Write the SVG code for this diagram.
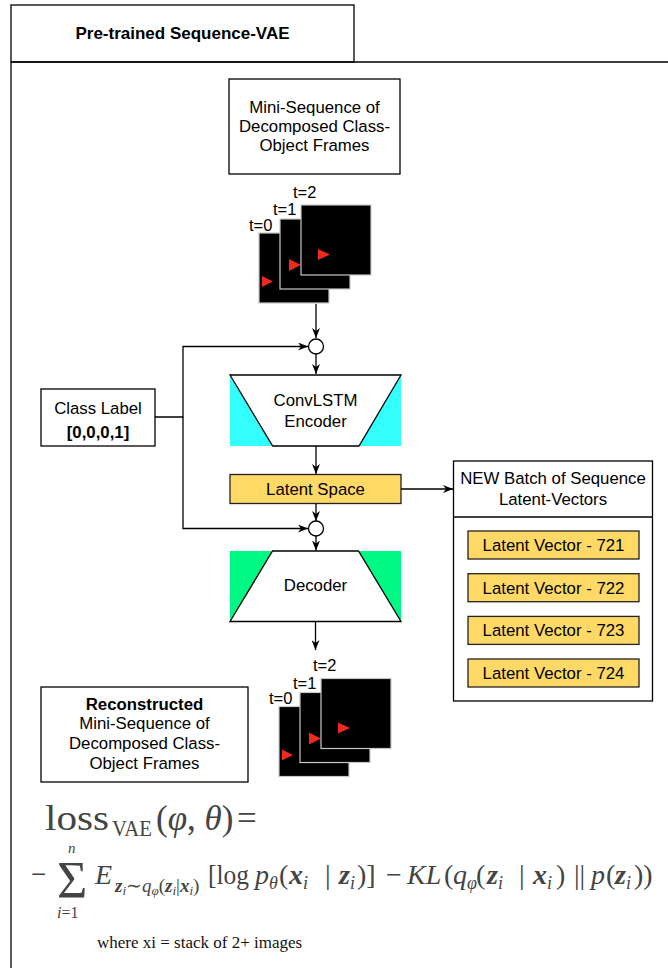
<svg xmlns="http://www.w3.org/2000/svg" width="668" height="968" viewBox="0 0 668 968">
<style>
.ln{fill:none;stroke:#000;stroke-width:1.3}
.bx{fill:#fff;stroke:#000;stroke-width:1.3}
.lat{fill:#FFD966;stroke:#222;stroke-width:1.3}
.t{font-family:"Liberation Sans",Arial,sans-serif;font-size:16.8px;fill:#000;text-anchor:middle}
.tl{font-family:"Liberation Sans",Arial,sans-serif;font-size:16.5px;fill:#000}
.b{font-weight:bold}
.fr{fill:#000;stroke:#c8c8c8;stroke-width:1.2}
.tri{fill:#ee2a1e}
.m{font-family:"Liberation Serif","Times New Roman",serif;fill:#444}
.it{font-style:italic}
.bi{font-style:italic;font-weight:bold}
</style>
<defs>
<marker id="arr" viewBox="0 0 10 8" refX="10" refY="4" markerWidth="10" markerHeight="8" orient="auto" markerUnits="userSpaceOnUse">
<path d="M0,0 L10,4 L0,8 L3,4 z" fill="#000"/>
</marker>
</defs>

<g id="container">
<rect x="11" y="5" width="343" height="57" class="bx"/>
<path d="M11,62 H669 M11,62 V969" class="ln"/>
<text x="182.5" y="39" class="t b" style="font-size:17px">Pre-trained Sequence-VAE</text>
</g>

<g id="mini-sequence-box">
<rect x="229" y="79" width="171" height="95" class="bx"/>
<text x="314.5" y="113" class="t">Mini-Sequence of</text>
<text x="314.5" y="132" class="t">Decomposed Class-</text>
<text x="314.5" y="151" class="t">Object Frames</text>
</g>

<g id="input-frames">
<rect x="259" y="233" width="70" height="70" class="fr"/>
<polygon points="262,276 273,281.5 262,287" class="tri"/>
<rect x="280" y="219" width="70" height="70" class="fr"/>
<polygon points="289,259 301,265 289,271" class="tri"/>
<rect x="301" y="205" width="70" height="70" class="fr"/>
<polygon points="318,249 330,254.5 318,260" class="tri"/>
<text x="249" y="231" class="tl">t=0</text>
<text x="273" y="215" class="tl">t=1</text>
<text x="293" y="198" class="tl">t=2</text>
</g>

<g id="class-label">
<rect x="41" y="389" width="114" height="57" class="bx"/>
<text x="98" y="414" class="t">Class Label</text>
<text x="98" y="438" class="t b">[0,0,0,1]</text>
</g>

<g id="concat-1">
<circle cx="316" cy="346.5" r="7.5" class="bx"/>
</g>

<g id="encoder">
<polygon points="230,375 272.7,446 230,446" fill="#33FFFF"/>
<polygon points="401,375 401,446 359,446" fill="#33FFFF"/>
<polygon points="230,375 401,375 359,446 272.7,446" class="bx"/>
<text x="315.5" y="406" class="t">ConvLSTM</text>
<text x="315.5" y="427" class="t">Encoder</text>
</g>

<g id="latent-space">
<rect x="230" y="474.5" width="171" height="29" class="lat"/>
<text x="315.5" y="495" class="t">Latent Space</text>
</g>

<g id="concat-2">
<circle cx="316" cy="528.5" r="7.5" class="bx"/>
</g>

<g id="decoder">
<polygon points="230,551 272.5,551 230,621.5" fill="#00F884"/>
<polygon points="358.5,551 401,551 401,621.5" fill="#00F884"/>
<polygon points="272.5,551 358.5,551 401,621.5 230,621.5" class="bx"/>
<text x="315.5" y="591" class="t">Decoder</text>
</g>

<g id="output-frames">
<rect x="279" y="706.5" width="70" height="70" class="fr"/>
<polygon points="282,749.5 293,755 282,760.5" class="tri"/>
<rect x="300" y="692.5" width="70" height="70" class="fr"/>
<polygon points="309,732.5 321,738.5 309,744.5" class="tri"/>
<rect x="321" y="678.5" width="70" height="70" class="fr"/>
<polygon points="338,722.5 350,728 338,733.5" class="tri"/>
<text x="269" y="704" class="tl">t=0</text>
<text x="293" y="689" class="tl">t=1</text>
<text x="313" y="671" class="tl">t=2</text>
</g>

<g id="reconstructed-box">
<rect x="41" y="687" width="207" height="95" class="bx"/>
<text x="144.5" y="710" class="t b">Reconstructed</text>
<text x="144.5" y="729" class="t">Mini-Sequence of</text>
<text x="144.5" y="749" class="t">Decomposed Class-</text>
<text x="144.5" y="769" class="t">Object Frames</text>
</g>

<g id="latent-batch">
<rect x="453.5" y="461" width="199" height="240" class="bx"/>
<path d="M453.5,517 H652.5" class="ln"/>
<text x="553" y="484" class="t">NEW Batch of Sequence</text>
<text x="553" y="505" class="t">Latent-Vectors</text>
<rect x="468" y="531" width="171" height="28" class="lat"/>
<text x="553.5" y="551" class="t">Latent Vector - 721</text>
<rect x="468" y="573.7" width="171" height="28" class="lat"/>
<text x="553.5" y="593.7" class="t">Latent Vector - 722</text>
<rect x="468" y="616.4" width="171" height="28" class="lat"/>
<text x="553.5" y="636.4" class="t">Latent Vector - 723</text>
<rect x="468" y="659" width="171" height="28" class="lat"/>
<text x="553.5" y="679" class="t">Latent Vector - 724</text>
</g>

<g id="connectors">
<path d="M316,304 V338" class="ln" marker-end="url(#arr)"/>
<path d="M155,417 H183 V346.5 H308" class="ln" marker-end="url(#arr)"/>
<path d="M183,417 V528.5 H308" class="ln" marker-end="url(#arr)"/>
<path d="M316,354 V374" class="ln" marker-end="url(#arr)"/>
<path d="M316,446 V474" class="ln" marker-end="url(#arr)"/>
<path d="M401,489 H453" class="ln" marker-end="url(#arr)"/>
<path d="M316,503.5 V521" class="ln" marker-end="url(#arr)"/>
<path d="M316,536 V550.5" class="ln" marker-end="url(#arr)"/>
<path d="M315.5,621.5 V650" class="ln" marker-end="url(#arr)"/>
</g>

<g id="formula">
<text class="m" y="830" font-size="35"><tspan x="45" textLength="64" lengthAdjust="spacingAndGlyphs">loss</tspan><tspan x="112" font-size="23" dy="6" textLength="40" lengthAdjust="spacingAndGlyphs">VAE</tspan><tspan dy="-6" x="156">(</tspan><tspan class="it">φ</tspan><tspan>, </tspan><tspan class="it">θ</tspan><tspan>)</tspan><tspan x="237">=</tspan></text>

<text class="m" font-size="27" x="31" y="883">−</text>
<text class="m" font-size="52" x="57" y="898">Σ</text>
<text class="m it" font-size="15" x="68" y="853">n</text>
<text class="m" font-size="16" x="57" y="918"><tspan class="it">i</tspan>=1</text>
<text class="m" font-size="28" y="884"><tspan x="95" class="it">E</tspan><tspan x="115" font-size="19" dy="8" class="bi">z</tspan><tspan font-size="13" dy="3" class="it">i</tspan><tspan font-size="19" dy="-3">∼</tspan><tspan font-size="19" class="it">q</tspan><tspan font-size="13" dy="3" class="it">φ</tspan><tspan font-size="19" dy="-3">(</tspan><tspan font-size="19" class="bi">z</tspan><tspan font-size="13" dy="3" class="it">i</tspan><tspan font-size="19" dy="-3">|</tspan><tspan font-size="19" class="bi">x</tspan><tspan font-size="13" dy="3" class="it">i</tspan><tspan font-size="19" dy="-3">)</tspan><tspan x="208" dy="-8" textLength="41" lengthAdjust="spacingAndGlyphs">[log</tspan><tspan x="255" class="it">p</tspan><tspan font-size="18" dy="5" class="it">θ</tspan><tspan x="279" dy="-5">(</tspan><tspan x="289" class="bi">x</tspan><tspan font-size="18" dy="5" class="it">i</tspan><tspan x="325" dy="-5">|</tspan><tspan x="339" class="bi">z</tspan><tspan font-size="18" dy="5" class="it">i</tspan><tspan x="357" dy="-5">)]</tspan><tspan x="386">−</tspan><tspan x="407" class="it">KL</tspan><tspan x="444">(</tspan><tspan x="453" class="it">q</tspan><tspan font-size="18" dy="5" class="it">φ</tspan><tspan x="476" dy="-5">(</tspan><tspan x="487" class="bi">z</tspan><tspan font-size="18" dy="5" class="it">i</tspan><tspan x="519" dy="-5">|</tspan><tspan x="533" class="bi">x</tspan><tspan font-size="18" dy="5" class="it">i</tspan><tspan x="556" dy="-5">)</tspan><tspan x="574">||</tspan><tspan x="591" class="it">p</tspan><tspan x="606">(</tspan><tspan x="615" class="bi">z</tspan><tspan font-size="18" dy="5" class="it">i</tspan><tspan x="634" dy="-5">))</tspan></text>

<text class="m" font-size="17" x="97" y="948" style="fill:#111">where xi = stack of 2+ images</text>
</g>
</svg>
